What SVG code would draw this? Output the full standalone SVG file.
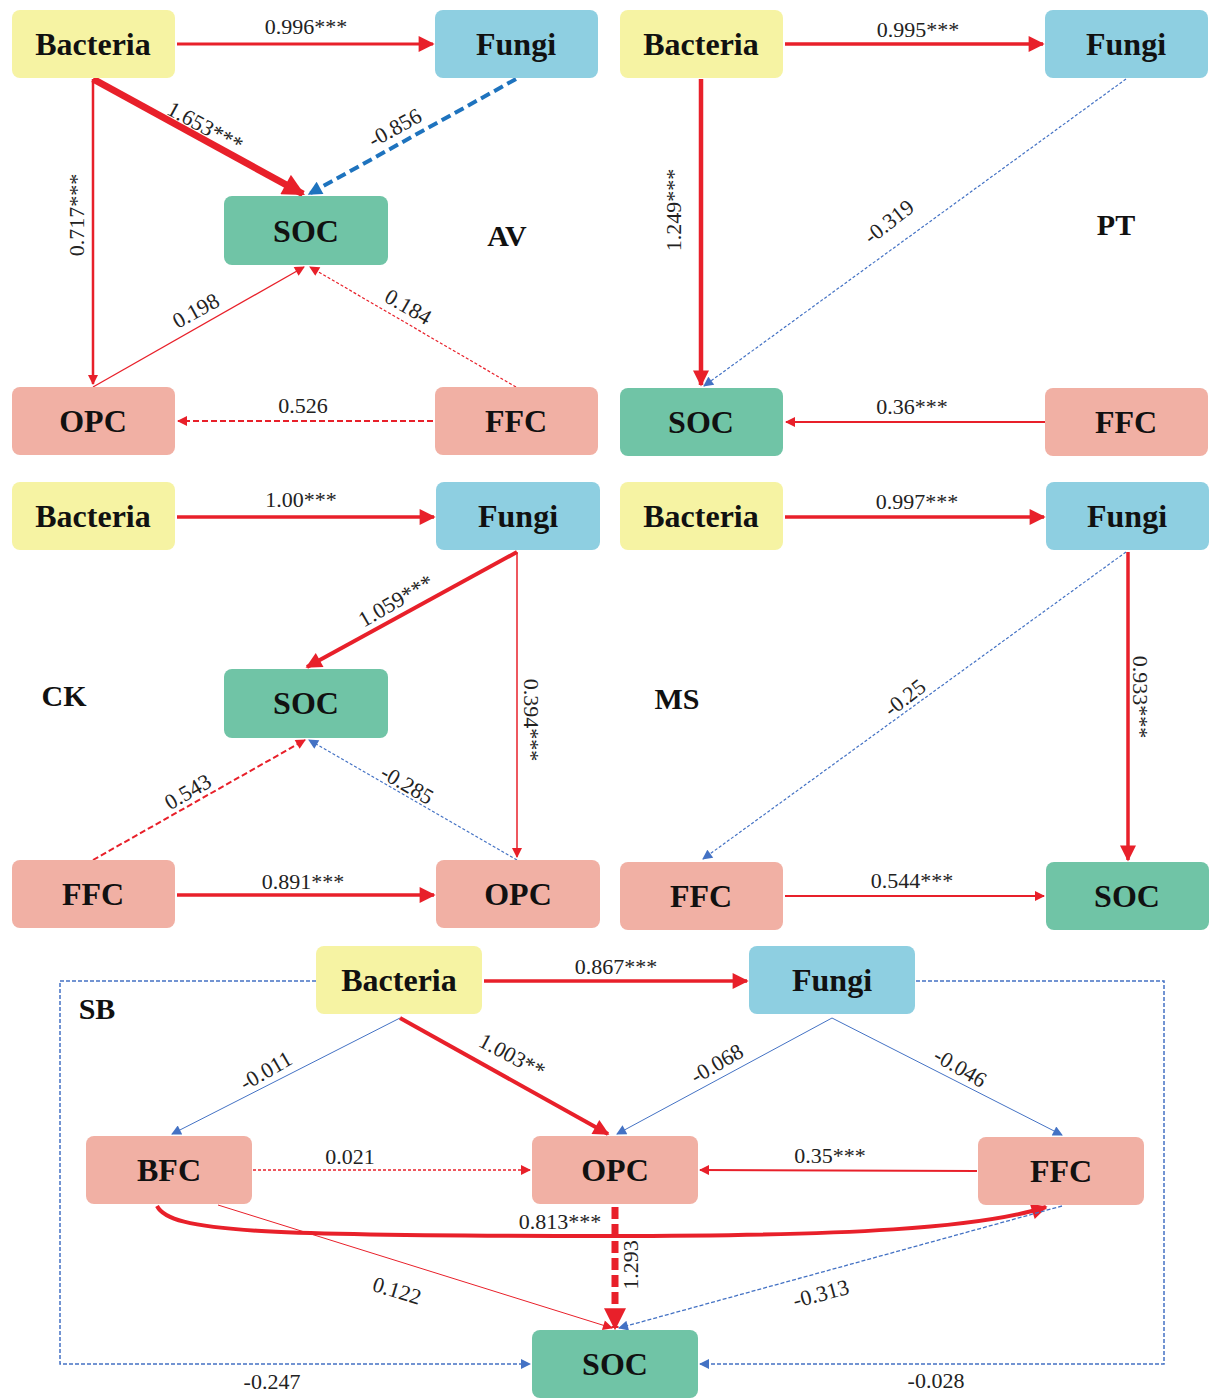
<svg xmlns="http://www.w3.org/2000/svg" width="1210" height="1399" viewBox="0 0 1210 1399">
<style>
.nl{font-family:"Liberation Serif",serif;font-weight:bold;font-size:32px;text-anchor:middle;fill:#111}
.pl{font-family:"Liberation Serif",serif;font-weight:bold;font-size:30px;text-anchor:middle;fill:#111}
.el{font-family:"Liberation Serif",serif;font-size:22px;text-anchor:middle;fill:#222}
.bac{fill:#F6F3A3}
.fun{fill:#8ECFE1}
.soc{fill:#70C4A6}
.sal{fill:#F1B0A4}
.r{fill:none;stroke:#E8202A}
.b{fill:none;stroke:#4472C4}
</style>
<defs>
<marker id="rL" viewBox="0 0 10 10" refX="9" refY="5" markerWidth="24" markerHeight="22" markerUnits="userSpaceOnUse" orient="auto"><path d="M0,0L10,5L0,10z" fill="#E8202A"/></marker>
<marker id="rM" viewBox="0 0 10 10" refX="9" refY="5" markerWidth="20" markerHeight="16" markerUnits="userSpaceOnUse" orient="auto"><path d="M0,0L10,5L0,10z" fill="#E8202A"/></marker>
<marker id="rS" viewBox="0 0 10 10" refX="9" refY="5" markerWidth="12" markerHeight="10" markerUnits="userSpaceOnUse" orient="auto"><path d="M0,0L10,5L0,10z" fill="#E8202A"/></marker>
<marker id="bM" viewBox="0 0 10 10" refX="9" refY="5" markerWidth="16" markerHeight="14" markerUnits="userSpaceOnUse" orient="auto"><path d="M0,0L10,5L0,10z" fill="#1E73BE"/></marker>
<marker id="bS" viewBox="0 0 10 10" refX="9" refY="5" markerWidth="12" markerHeight="10" markerUnits="userSpaceOnUse" orient="auto"><path d="M0,0L10,5L0,10z" fill="#4472C4"/></marker>
</defs>
<rect width="1210" height="1399" fill="#fff"/>

<g id="connectors">
<!-- AV -->
<path class="r" stroke-width="3" d="M177,44 L433,44" marker-end="url(#rM)"/>
<path class="r" stroke-width="7" d="M93,79 L303,194" marker-end="url(#rL)"/>
<path fill="none" stroke="#1E73BE" stroke-width="4" stroke-dasharray="10,5" d="M516,79 L309,194" marker-end="url(#bM)"/>
<path class="r" stroke-width="2.5" d="M93,79 L93,384" marker-end="url(#rS)"/>
<path class="r" stroke-width="1.3" d="M93,387 L304,267" marker-end="url(#rS)"/>
<path class="r" stroke-width="1.2" stroke-dasharray="3,2" d="M516,387 L310,267" marker-end="url(#rS)"/>
<path class="r" stroke-width="2" stroke-dasharray="6,3" d="M433,421 L178,421" marker-end="url(#rS)"/>
<!-- PT -->
<path class="r" stroke-width="3.5" d="M785,44 L1043,44" marker-end="url(#rM)"/>
<path class="r" stroke-width="4.5" d="M701,79 L701,385" marker-end="url(#rM)"/>
<path class="b" stroke-width="1.2" stroke-dasharray="3,2" d="M1126,79 L704,386" marker-end="url(#bS)"/>
<path class="r" stroke-width="2" d="M1045,422 L786,422" marker-end="url(#rS)"/>
<!-- CK -->
<path class="r" stroke-width="3.5" d="M177,517 L434,517" marker-end="url(#rM)"/>
<path class="r" stroke-width="4" d="M517,552 L307,667" marker-end="url(#rM)"/>
<path class="r" stroke-width="1.5" d="M517,552 L517,857" marker-end="url(#rS)"/>
<path class="r" stroke-width="2" stroke-dasharray="6,3" d="M93,860 L305,740" marker-end="url(#rS)"/>
<path class="b" stroke-width="1.2" stroke-dasharray="3,2" d="M517,860 L309,740" marker-end="url(#bS)"/>
<path class="r" stroke-width="3.5" d="M177,895 L434,895" marker-end="url(#rM)"/>
<!-- MS -->
<path class="r" stroke-width="3.5" d="M785,517 L1044,517" marker-end="url(#rM)"/>
<path class="b" stroke-width="1.2" stroke-dasharray="3,2" d="M1126,552 L703,859" marker-end="url(#bS)"/>
<path class="r" stroke-width="3.5" d="M1128,552 L1128,860" marker-end="url(#rM)"/>
<path class="r" stroke-width="2" d="M785,896 L1044,896" marker-end="url(#rS)"/>
<!-- SB -->
<path class="r" stroke-width="3.5" d="M484,981 L747,981" marker-end="url(#rM)"/>
<path class="b" stroke-width="1" d="M400,1018 L172,1134" marker-end="url(#bS)"/>
<path class="r" stroke-width="4" d="M400,1018 L608,1134" marker-end="url(#rM)"/>
<path class="b" stroke-width="1" d="M832,1018 L617,1134" marker-end="url(#bS)"/>
<path class="b" stroke-width="1" d="M832,1018 L1062,1135" marker-end="url(#bS)"/>
<path class="r" stroke-width="1.3" stroke-dasharray="3,2" d="M253,1170 L530,1170" marker-end="url(#rS)"/>
<path class="r" stroke-width="2" d="M977,1171 L700,1170" marker-end="url(#rS)"/>
<path class="r" stroke-width="4" d="M157,1206 C170,1232 260,1236 610,1236 C850,1236 980,1228 1046,1207" marker-end="url(#rM)"/>
<path class="r" stroke-width="7" stroke-dasharray="12,5" d="M615,1207 L615,1328" marker-end="url(#rL)"/>
<path class="r" stroke-width="1" d="M218,1205 L612,1328" marker-end="url(#rS)"/>
<path class="b" stroke-width="1.3" stroke-dasharray="4,2" d="M1062,1206 L619,1328" marker-end="url(#bS)"/>
<path class="b" stroke-width="1.5" stroke-dasharray="4,2" d="M316,981 L60,981 L60,1364 L530,1364" marker-end="url(#bS)"/>
<path class="b" stroke-width="1.5" stroke-dasharray="4,2" d="M916,981 L1164,981 L1164,1364 L700,1364" marker-end="url(#bS)"/>
</g>

<g id="edge-labels">
<text class="el" x="306" y="34">0.996***</text>
<text class="el" transform="translate(205,127) rotate(28.5)" y="7">1.653***</text>
<text class="el" transform="translate(395,128) rotate(-29)" y="7">-0.856</text>
<text class="el" transform="translate(77,215) rotate(-90)" y="7">0.717***</text>
<text class="el" transform="translate(196,311) rotate(-29)" y="7">0.198</text>
<text class="el" transform="translate(408,307) rotate(30)" y="7">0.184</text>
<text class="el" x="303" y="413">0.526</text>

<text class="el" x="918" y="37">0.995***</text>
<text class="el" transform="translate(674,210) rotate(-90)" y="7">1.249***</text>
<text class="el" transform="translate(889,222) rotate(-38)" y="7">-0.319</text>
<text class="el" x="912" y="414">0.36***</text>

<text class="el" x="301" y="507">1.00***</text>
<text class="el" transform="translate(396,601) rotate(-30)" y="7">1.059***</text>
<text class="el" transform="translate(531,720) rotate(90)" y="7">0.394***</text>
<text class="el" transform="translate(188,792) rotate(-30)" y="7">0.543</text>
<text class="el" transform="translate(407,785) rotate(30)" y="7">-0.285</text>
<text class="el" x="303" y="889">0.891***</text>

<text class="el" x="917" y="509">0.997***</text>
<text class="el" transform="translate(905,698) rotate(-38)" y="7">-0.25</text>
<text class="el" transform="translate(1140,697) rotate(90)" y="7">0.933***</text>
<text class="el" x="912" y="888">0.544***</text>

<text class="el" x="616" y="974">0.867***</text>
<text class="el" transform="translate(266,1071) rotate(-30)" y="7">-0.011</text>
<text class="el" transform="translate(512,1056) rotate(28)" y="7">1.003**</text>
<text class="el" transform="translate(717,1064) rotate(-30)" y="7">-0.068</text>
<text class="el" transform="translate(960,1068) rotate(30)" y="7">-0.046</text>
<text class="el" x="350" y="1164">0.021</text>
<text class="el" x="830" y="1163">0.35***</text>
<text class="el" x="560" y="1229">0.813***</text>
<text class="el" transform="translate(631,1265) rotate(-90)" y="7">1.293</text>
<text class="el" transform="translate(397,1291) rotate(17)" y="7">0.122</text>
<text class="el" transform="translate(821,1294) rotate(-15)" y="7">-0.313</text>
<text class="el" x="272" y="1389">-0.247</text>
<text class="el" x="936" y="1388">-0.028</text>
</g>

<g id="panel-labels">
<text class="pl" x="507" y="246">AV</text>
<text class="pl" x="1116" y="235">PT</text>
<text class="pl" x="64" y="706">CK</text>
<text class="pl" x="677" y="709">MS</text>
<text class="pl" x="97" y="1019">SB</text>
</g>

<!-- AV -->
<g id="av-bacteria"><rect class="bac" x="12" y="10" width="163" height="68" rx="8"/><text class="nl" x="93" y="55">Bacteria</text></g>
<g id="av-fungi"><rect class="fun" x="435" y="10" width="163" height="68" rx="8"/><text class="nl" x="516" y="55">Fungi</text></g>
<g id="av-soc"><rect class="soc" x="224" y="196" width="164" height="69" rx="8"/><text class="nl" x="306" y="242">SOC</text></g>
<g id="av-opc"><rect class="sal" x="12" y="387" width="163" height="68" rx="8"/><text class="nl" x="93" y="432">OPC</text></g>
<g id="av-ffc"><rect class="sal" x="435" y="387" width="163" height="68" rx="8"/><text class="nl" x="516" y="432">FFC</text></g>
<!-- PT -->
<g id="pt-bacteria"><rect class="bac" x="620" y="10" width="163" height="68" rx="8"/><text class="nl" x="701" y="55">Bacteria</text></g>
<g id="pt-fungi"><rect class="fun" x="1045" y="10" width="163" height="68" rx="8"/><text class="nl" x="1126" y="55">Fungi</text></g>
<g id="pt-soc"><rect class="soc" x="620" y="388" width="163" height="68" rx="8"/><text class="nl" x="701" y="433">SOC</text></g>
<g id="pt-ffc"><rect class="sal" x="1045" y="388" width="163" height="68" rx="8"/><text class="nl" x="1126" y="433">FFC</text></g>
<!-- CK -->
<g id="ck-bacteria"><rect class="bac" x="12" y="482" width="163" height="68" rx="8"/><text class="nl" x="93" y="527">Bacteria</text></g>
<g id="ck-fungi"><rect class="fun" x="436" y="482" width="164" height="68" rx="8"/><text class="nl" x="518" y="527">Fungi</text></g>
<g id="ck-soc"><rect class="soc" x="224" y="669" width="164" height="69" rx="8"/><text class="nl" x="306" y="714">SOC</text></g>
<g id="ck-ffc"><rect class="sal" x="12" y="860" width="163" height="68" rx="8"/><text class="nl" x="93" y="905">FFC</text></g>
<g id="ck-opc"><rect class="sal" x="436" y="860" width="164" height="68" rx="8"/><text class="nl" x="518" y="905">OPC</text></g>
<!-- MS -->
<g id="ms-bacteria"><rect class="bac" x="620" y="482" width="163" height="68" rx="8"/><text class="nl" x="701" y="527">Bacteria</text></g>
<g id="ms-fungi"><rect class="fun" x="1046" y="482" width="163" height="68" rx="8"/><text class="nl" x="1127" y="527">Fungi</text></g>
<g id="ms-ffc"><rect class="sal" x="620" y="862" width="163" height="68" rx="8"/><text class="nl" x="701" y="907">FFC</text></g>
<g id="ms-soc"><rect class="soc" x="1046" y="862" width="163" height="68" rx="8"/><text class="nl" x="1127" y="907">SOC</text></g>
<!-- SB -->
<g id="sb-bacteria"><rect class="bac" x="316" y="946" width="166" height="68" rx="8"/><text class="nl" x="399" y="991">Bacteria</text></g>
<g id="sb-fungi"><rect class="fun" x="749" y="946" width="166" height="68" rx="8"/><text class="nl" x="832" y="991">Fungi</text></g>
<g id="sb-bfc"><rect class="sal" x="86" y="1136" width="166" height="68" rx="8"/><text class="nl" x="169" y="1181">BFC</text></g>
<g id="sb-opc"><rect class="sal" x="532" y="1136" width="166" height="68" rx="8"/><text class="nl" x="615" y="1181">OPC</text></g>
<g id="sb-ffc"><rect class="sal" x="978" y="1137" width="166" height="68" rx="8"/><text class="nl" x="1061" y="1182">FFC</text></g>
<g id="sb-soc"><rect class="soc" x="532" y="1330" width="166" height="68" rx="8"/><text class="nl" x="615" y="1375">SOC</text></g>
</svg>
